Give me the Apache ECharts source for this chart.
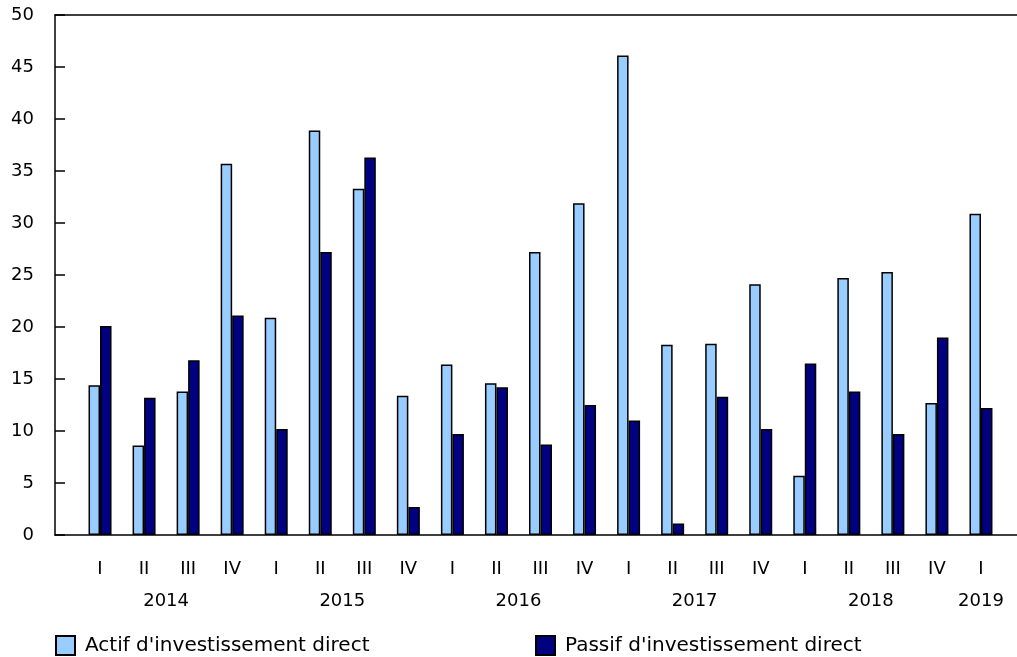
<!DOCTYPE html>
<html>
<head>
<meta charset="utf-8">
<script src="https://cdn.jsdelivr.net/npm/echarts@6/dist/echarts.min.js"></script>
<style>
  html, body { margin: 0; padding: 0; background: #fff; }
  #chart { width: 1017px; height: 657px; }
</style>
</head>
<body>
<div id="chart"></div>
<script>
const quarters = ['I','II','III','IV','I','II','III','IV','I','II','III','IV','I','II','III','IV','I','II','III','IV','I'];
const years = ['2014','2015','2016','2017','2018','2019'];
const actif = [14.4, 8.6, 13.8, 35.7, 20.9, 38.9, 33.3, 13.4, 16.4, 14.6, 27.2, 31.9, 46.1, 18.3, 18.4, 24.1, 5.7, 24.7, 25.3, 12.7, 30.9];
const passif = [20.1, 13.2, 16.8, 21.1, 10.2, 27.2, 36.3, 2.7, 9.7, 14.2, 8.7, 12.5, 11.0, 1.1, 13.3, 10.2, 16.5, 13.8, 9.7, 19.0, 12.2];
const seriesNames = ["Actif d'investissement direct", "Passif d'investissement direct"];
const yTicks = [0, 5, 10, 15, 20, 25, 30, 35, 40, 45, 50];

// Year label positions: centre of the quarters belonging to each year
const yearPos = {};
(function () {
  let yi = -1;
  const groups = [];
  quarters.forEach((q, i) => {
    if (q === 'I') { yi++; groups.push([i, i]); }
    groups[yi][1] = i;
  });
  groups.forEach((g, k) => { yearPos[((g[0] + g[1]) / 2).toFixed(1)] = years[k]; });
})();

const FONT = 'DejaVu Sans, Verdana, sans-serif';
const chart = echarts.init(document.getElementById('chart'));
const legendText = { fontFamily: FONT, fontSize: 20, color: '#000', padding: [0, 0, 0, 5] };
chart.setOption({
  animation: false,
  backgroundColor: '#fff',
  grid: [
    { left: 78, right: 14, top: 15, bottom: 122 },
    { left: 55, right: 0, top: 15, bottom: 122 }
  ],
  legend: [
    {
      data: [seriesNames[0]], left: 55, top: 635, padding: 0, icon: 'rect',
      itemWidth: 19, itemHeight: 19, textStyle: legendText
    },
    {
      data: [seriesNames[1]], left: 535, top: 635, padding: 0, icon: 'rect',
      itemWidth: 19, itemHeight: 19, textStyle: legendText
    }
  ],
  xAxis: [
    {
      gridIndex: 0, type: 'category', data: quarters, position: 'bottom',
      axisLine: { show: false }, axisTick: { show: false },
      axisLabel: { interval: 0, margin: 25, fontFamily: FONT, fontSize: 18, color: '#000' }
    },
    {
      gridIndex: 0, type: 'value', min: -0.5, max: quarters.length - 0.5, interval: 0.5, position: 'bottom',
      axisLine: { show: false }, axisTick: { show: false }, splitLine: { show: false },
      axisLabel: {
        margin: 57, fontFamily: FONT, fontSize: 18, color: '#000',
        formatter: v => yearPos[Number(v).toFixed(1)] || ''
      }
    },
    {
      gridIndex: 1, type: 'value', min: 0, max: 1, position: 'bottom',
      axisLine: { show: true, lineStyle: { color: '#000', width: 1.5 } },
      axisTick: { show: false }, axisLabel: { show: false }, splitLine: { show: false }
    },
    {
      gridIndex: 1, type: 'value', min: 0, max: 1, position: 'top',
      axisLine: { show: true, lineStyle: { color: '#000', width: 1.5 } },
      axisTick: { show: false }, axisLabel: { show: false }, splitLine: { show: false }
    }
  ],
  yAxis: [
    {
      gridIndex: 0, type: 'value', min: yTicks[0], max: yTicks[yTicks.length - 1], interval: 5,
      show: false, splitLine: { show: false }
    },
    {
      gridIndex: 1, type: 'value', min: yTicks[0], max: yTicks[yTicks.length - 1], interval: 5,
      axisLine: { show: true, lineStyle: { color: '#000', width: 1.5 } },
      axisTick: { show: true, inside: true, length: 10, lineStyle: { color: '#000', width: 1.5 } },
      axisLabel: { margin: 21, fontFamily: FONT, fontSize: 18, color: '#000' },
      splitLine: { show: false }
    }
  ],
  series: [
    {
      name: seriesNames[0], type: 'bar', xAxisIndex: 0, yAxisIndex: 0,
      data: actif, barWidth: 11.5, barGap: '0%',
      itemStyle: { color: '#99CCFF', borderColor: '#000', borderWidth: 1.5 }
    },
    {
      name: seriesNames[1], type: 'bar', xAxisIndex: 0, yAxisIndex: 0,
      data: passif, barWidth: 11.5, barGap: '0%',
      itemStyle: { color: '#000080', borderColor: '#000', borderWidth: 1.5 }
    }
  ]
});
</script>
</body>
</html>
